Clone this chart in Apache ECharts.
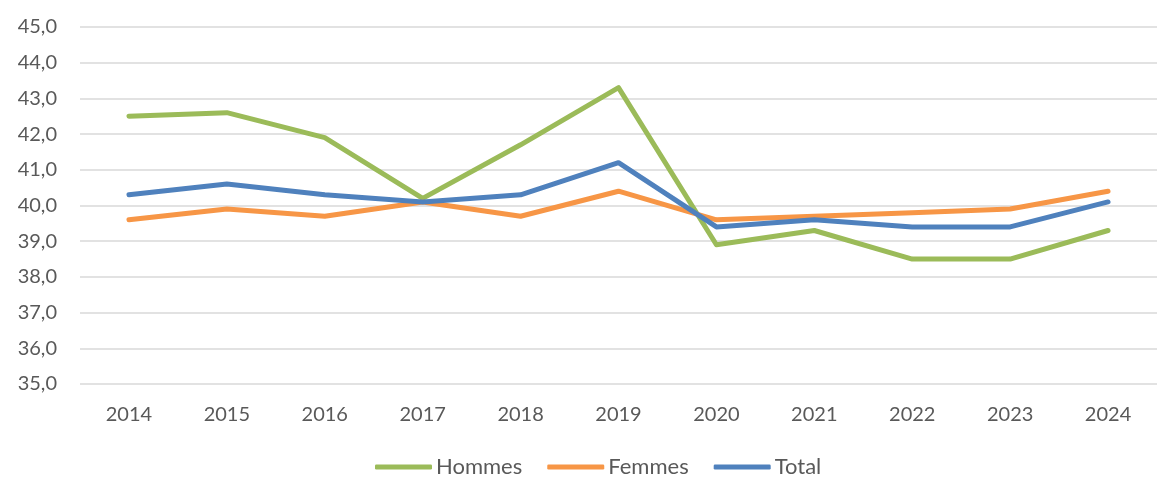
<!DOCTYPE html>
<html>
<head>
<meta charset="utf-8">
<script src="https://cdn.jsdelivr.net/npm/echarts@6/dist/echarts.min.js"></script>
<style>
  html, body { margin: 0; padding: 0; background: #fff; }
  #chart { width: 1157px; height: 477px; }
</style>
</head>
<body>
<div id="chart"></div>
<script>
// Years on the horizontal axis
const years = ['2014', '2015', '2016', '2017', '2018', '2019', '2020', '2021', '2022', '2023', '2024'];

// Series values
const hommes = [42.5, 42.6, 41.9, 40.2, 41.7, 43.3, 38.9, 39.3, 38.5, 38.5, 39.3];
const femmes = [39.6, 39.9, 39.7, 40.1, 39.7, 40.4, 39.6, 39.7, 39.8, 39.9, 40.4];
const total  = [40.3, 40.6, 40.3, 40.1, 40.3, 41.2, 39.4, 39.6, 39.4, 39.4, 40.1];

const FONT = 'Lato';
const TEXT = '#595959';

const chart = echarts.init(document.getElementById('chart'), null, { renderer: 'canvas' });

function lineSeries(name, data, color) {
  return {
    name: name,
    type: 'line',
    data: data,
    symbol: 'none',
    lineStyle: { width: 5, color: color, cap: 'round', join: 'round' },
    itemStyle: { color: color }
  };
}

chart.setOption({
  animation: false,
  grid: { left: 80, right: -3, top: 27, bottom: 93, containLabel: false },
  legend: {
    top: 456,
    left: 375,
    padding: 0,
    itemWidth: 57,
    itemHeight: 5,
    itemGap: 25,
    icon: 'roundRect',
    textStyle: { fontFamily: FONT, fontSize: 22, color: TEXT, padding: [0, 0, 0, -1] },
    data: ['Hommes', 'Femmes', 'Total']
  },
  xAxis: {
    type: 'category',
    data: years,
    boundaryGap: true,
    axisLine: { show: false },
    axisTick: { show: false },
    axisLabel: { fontFamily: FONT, fontSize: 20, color: TEXT, margin: 21 }
  },
  yAxis: {
    type: 'value',
    min: 35,
    max: 45,
    interval: 1,
    axisLine: { show: false },
    axisTick: { show: false },
    splitLine: { lineStyle: { color: '#D9D9D9', width: 1.5 } },
    axisLabel: {
      fontFamily: FONT, fontSize: 20, color: TEXT, margin: 23,
      formatter: v => v.toFixed(1).replace('.', ',')
    }
  },
  series: [
    lineSeries('Hommes', hommes, '#9BBB59'),
    lineSeries('Femmes', femmes, '#F79646'),
    lineSeries('Total', total, '#4F81BD')
  ]
});
</script>
</body>
</html>
